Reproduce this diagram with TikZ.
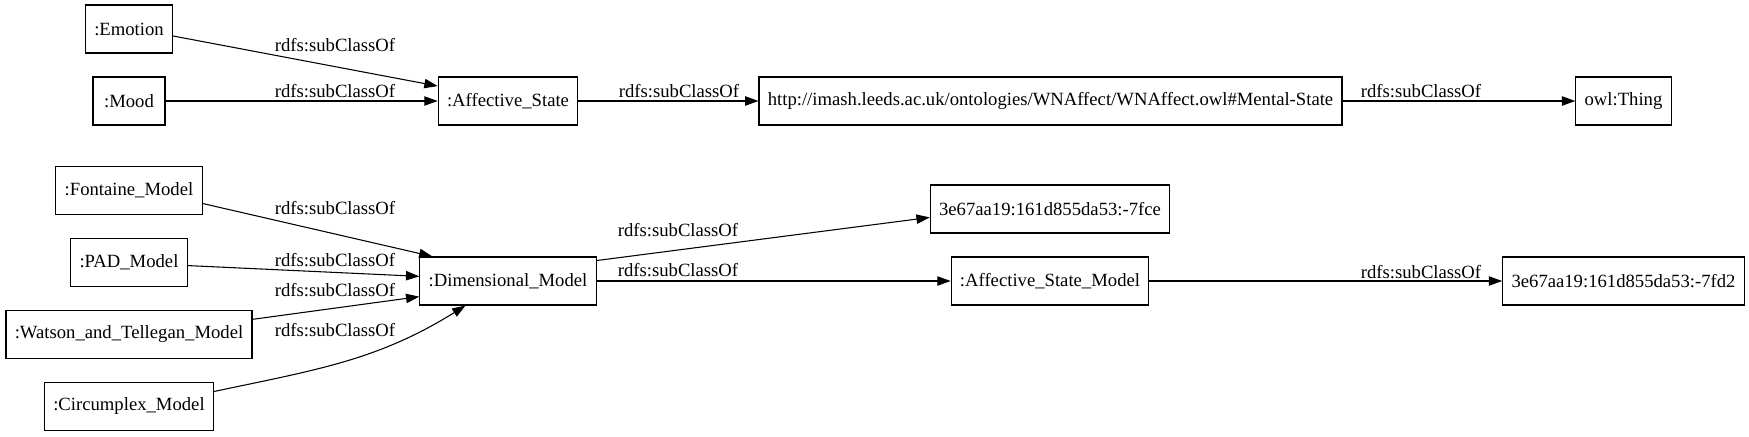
\documentclass[tikz,border=0pt]{standalone}
\usepackage{fontspec}
\setmainfont{Liberation Serif}
\usepackage{tikz}
\usetikzlibrary{positioning,arrows.meta}

\begin{document}
\begin{tikzpicture}[
    x=0.75pt, y=0.75pt,
    font=\fontsize{14pt}{16pt}\selectfont,
    cls/.style={draw, line width=0.8pt, minimum height=36pt, minimum width=54pt,
                inner xsep=6.6pt, inner ysep=2pt},
    lbl/.style={inner sep=0pt},
    sub/.style={line width=0.8pt, -{Triangle[length=10pt,width=7pt]}},
  ]
  \useasboundingbox (0,0) rectangle (1749,-436);

  % upper graph: affective state chain
  \node[cls] (emo) at (129,-29) {:Emotion};
  \node[cls] (mood) at (129,-101) {:Mood};
  \node[cls] (afs) at (508,-101) {:Affective\_State};
  \node[cls] (ment) at (1050.5,-101) {http://imash.leeds.ac.uk/ontologies/WNAffect/WNAffect.owl\#Mental-State};
  \node[cls] (thing) at (1623.5,-101) {owl:Thing};

  \draw[sub] (emo.-9) -- (afs.168);
  \draw[sub] (mood) -- (afs);
  \draw[sub] (afs) -- (ment);
  \draw[sub] (ment) -- (thing);

  \node[lbl] (l1) at (335,-45) {rdfs:subClassOf};
  \node[lbl] (l2) at (335,-91) {rdfs:subClassOf};
  \node[lbl] (l3) at (679,-91) {rdfs:subClassOf};
  \node[lbl] (l4) at (1421,-91) {rdfs:subClassOf};

  % lower graph: dimensional models
  \node[cls] (font) at (129,-190.5) {:Fontaine\_Model};
  \node[cls] (pad) at (129,-262.5) {:PAD\_Model};
  \node[cls] (wat) at (129,-334.5) {:Watson\_and\_Tellegan\_Model};
  \node[cls] (circ) at (129,-406.5) {:Circumplex\_Model};
  \node[cls] (dim) at (508,-281) {:Dimensional\_Model};
  \node[cls] (a7fce) at (1050,-209) {3e67aa19:161d855da53:-7fce};
  \node[cls] (asm) at (1050,-281) {:Affective\_State\_Model};
  \node[cls] (a7fd2) at (1623.5,-281) {3e67aa19:161d855da53:-7fd2};

  \draw[sub] (font.-10) -- (dim.162);
  \draw[sub] (pad.-3) -- (dim.177);
  \draw[sub] (wat.7) -- (dim.190);
  \draw[sub] (circ.10) to[out=12, in=212] (dim.210);
  \draw[sub] (dim.13) -- (a7fce.184);
  \draw[sub] (dim) -- (asm);
  \draw[sub] (asm) -- (a7fd2);

  \node[lbl] (l5) at (335,-208) {rdfs:subClassOf};
  \node[lbl] (l6) at (335,-260) {rdfs:subClassOf};
  \node[lbl] (l7) at (335,-290) {rdfs:subClassOf};
  \node[lbl] (l8) at (335,-330) {rdfs:subClassOf};
  \node[lbl] (l9) at (678,-230) {rdfs:subClassOf};
  \node[lbl] (l10) at (678,-270) {rdfs:subClassOf};
  \node[lbl] (l11) at (1421,-272) {rdfs:subClassOf};
\end{tikzpicture}
\end{document}
